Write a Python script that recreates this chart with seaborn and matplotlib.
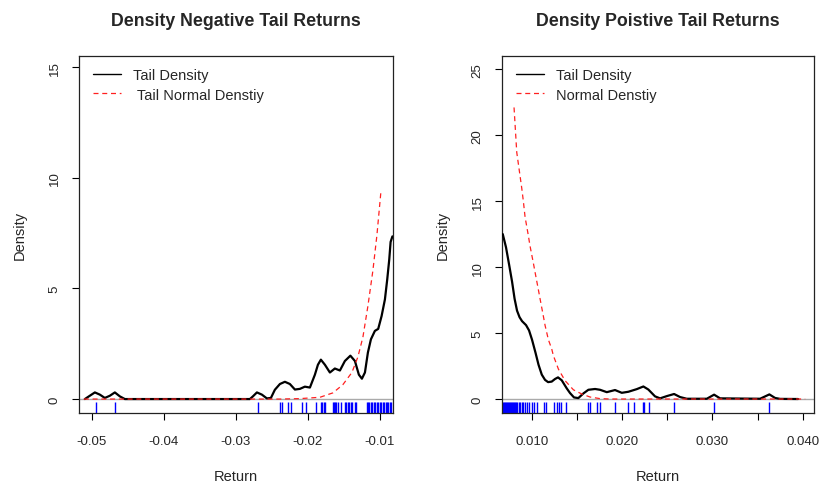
import numpy as np
import pandas as pd
import matplotlib
matplotlib.use("Agg")
import matplotlib.pyplot as plt
import seaborn as sns
from matplotlib.lines import Line2D

# ---------------- data ----------------
neg_rug = [-0.04945, -0.04677, -0.02693, -0.02388, -0.02361, -0.02277, -0.02229,
           -0.02087, -0.02021, -0.01882, -0.01820, -0.01799, -0.01778, -0.01764,
           -0.01653, -0.01639, -0.01626, -0.01605, -0.01584, -0.01535, -0.01487,
           -0.01466, -0.01445, -0.01424, -0.01404, -0.01383, -0.01348, -0.01327,
           -0.01182, -0.01168, -0.01147, -0.01126, -0.01105, -0.01085, -0.01071,
           -0.01043, -0.01029, -0.01002, -0.00981, -0.00960, -0.00939, -0.00918,
           -0.00904, -0.00884, -0.00863, -0.00842]

neg_kde_x = [-0.05093, -0.05024, -0.04954, -0.04885, -0.04816, -0.04746, -0.04677,
             -0.04607, -0.04538, -0.02804, -0.02763, -0.02707, -0.02638, -0.02569,
             -0.02513, -0.02458, -0.02388, -0.02319, -0.02250, -0.02180, -0.02111,
             -0.02042, -0.01972, -0.01903, -0.01861, -0.01820, -0.01764, -0.01695,
             -0.01626, -0.01556, -0.01487, -0.01411, -0.01348, -0.01293, -0.01251,
             -0.01209, -0.01168, -0.01126, -0.01071, -0.01025, -0.00978, -0.00932,
             -0.00900, -0.00872, -0.00853, -0.00828]
neg_kde_y = [0.0, 0.15, 0.30, 0.20, 0.05, 0.15, 0.30,
             0.12, 0.0, 0.0, 0.12, 0.30, 0.20, 0.03,
             0.05, 0.42, 0.68, 0.78, 0.68, 0.43, 0.46,
             0.56, 0.52, 1.10, 1.55, 1.78, 1.55, 1.20,
             1.38, 1.29, 1.72, 1.96, 1.72, 1.10, 0.92,
             1.20, 2.10, 2.70, 3.08, 3.17, 3.75, 4.50,
             5.40, 6.30, 7.10, 7.35]

neg_norm_x = [-0.05107, -0.02388, -0.02111, -0.01833, -0.01653, -0.01515, -0.01390,
              -0.01307, -0.01237, -0.01168, -0.01099, -0.01043, -0.00988]
neg_norm_y = [0.0, 0.0, 0.02, 0.08, 0.28, 0.65, 1.20,
              1.90, 2.80, 4.20, 5.80, 7.40, 9.35]

pos_rug = [0.00682, 0.00693, 0.00704, 0.00715, 0.00726, 0.00738, 0.00749, 0.00760,
           0.00771, 0.00782, 0.00793, 0.00804, 0.00815, 0.00826, 0.00837, 0.00854,
           0.00870, 0.00887, 0.00907, 0.00926, 0.00948, 0.00970, 0.01003, 0.01025,
           0.01055, 0.01136, 0.01155, 0.01250, 0.01275, 0.01297, 0.01324, 0.01374,
           0.01623, 0.01646, 0.01723, 0.01751, 0.01922, 0.02070, 0.02133, 0.02227,
           0.02244, 0.02302, 0.02576, 0.03019, 0.03628]

pos_kde_x = [0.00679, 0.00715, 0.00749, 0.00782, 0.00810, 0.00837, 0.00865, 0.00893,
             0.00937, 0.00970, 0.01003, 0.01042, 0.01075, 0.01111, 0.01147, 0.01181,
             0.01221, 0.01258, 0.01291, 0.01332, 0.01388, 0.01424, 0.01468, 0.01516,
             0.01571, 0.01627, 0.01701, 0.01756, 0.01831, 0.01922, 0.01997, 0.02070,
             0.02163, 0.02236, 0.02291, 0.02365, 0.02421, 0.02495, 0.02576, 0.02642,
             0.02716, 0.02938, 0.03019, 0.03085, 0.03528, 0.03631, 0.03694, 0.03750,
             0.03949]
pos_kde_y = [12.5, 11.5, 10.2, 8.9, 7.6, 6.7, 6.2, 5.9,
             5.6, 5.2, 4.5, 3.5, 2.6, 1.85, 1.45, 1.28,
             1.32, 1.52, 1.64, 1.42, 0.80, 0.45, 0.12, 0.07,
             0.42, 0.70, 0.76, 0.70, 0.52, 0.68, 0.47, 0.55,
             0.75, 0.95, 0.72, 0.20, 0.05, 0.22, 0.38, 0.15,
             0.02, 0.02, 0.33, 0.05, 0.02, 0.35, 0.08, 0.01,
             0.0]

pos_norm_x = [0.00804, 0.00834, 0.00889, 0.00907, 0.00926, 0.00962, 0.00981, 0.01018,
              0.01037, 0.01073, 0.01092, 0.01128, 0.01147, 0.01184, 0.01221, 0.01239,
              0.01295, 0.01369, 0.01461, 0.01554, 0.01646, 0.01756, 0.01867, 0.04027]
pos_norm_y = [22.1, 18.7, 16.0, 15.0, 13.8, 12.4, 11.6, 10.3,
              9.6, 8.3, 7.6, 6.3, 5.6, 4.5, 3.8, 3.3,
              2.27, 1.39, 0.70, 0.38, 0.15, 0.03, 0.0, 0.0]

neg_xticks = [-0.05, -0.04, -0.03, -0.02, -0.01]
neg_xticklabels = ["-0.05", "-0.04", "-0.03", "-0.02", "-0.01"]
neg_yticks = [0, 5, 10, 15]
pos_xticks = [0.010, 0.015, 0.020, 0.025, 0.030, 0.035, 0.040]
pos_xticklabels = ["0.010", "", "0.020", "", "0.030", "", "0.040"]
pos_yticks = [0, 5, 10, 15, 20, 25]

titles = ["Density Negative Tail Returns", "Density Poistive Tail Returns"]
legend_labels = [["Tail Density", " Tail Normal Denstiy"], ["Tail Density", "Normal Denstiy"]]

# ---------------- style ----------------
sns.set_style("white")
plt.rcParams["font.family"] = ["Liberation Sans", "DejaVu Sans"]

fig = plt.figure(figsize=(8.2, 4.85), dpi=100)
ax1 = fig.add_axes([79.3 / 820, 71 / 485, 313.4 / 820, 357 / 485])
ax2 = fig.add_axes([502.3 / 820, 71 / 485, 311.7 / 820, 357 / 485])

panels = [
    (ax1, neg_rug, neg_kde_x, neg_kde_y, neg_norm_x, neg_norm_y, neg_xticks,
     neg_xticklabels, neg_yticks, (-0.0517, -0.00824), (-0.63, 15.5)),
    (ax2, pos_rug, pos_kde_x, pos_kde_y, pos_norm_x, pos_norm_y, pos_xticks,
     pos_xticklabels, pos_yticks, (0.00674, 0.04125), (-1.06, 26.0)),
]

for i, (ax, rug, kx, ky, nx, ny, xt, xtl, yt, xl, yl) in enumerate(panels):
    ax.axhline(0, color="#aaaaaa", lw=1.0, zorder=1)
    sns.lineplot(x=kx, y=ky, ax=ax, color="black", lw=1.6, sort=False,
                 estimator=None, zorder=3)
    sns.lineplot(x=nx, y=ny, ax=ax, color="#ff2020", lw=0.9, sort=False,
                 estimator=None, linestyle=(0, (4, 3)), zorder=4)
    sns.rugplot(x=rug, ax=ax, height=0.03, color="blue", lw=1.0, zorder=2)
    ax.set_xlim(*xl)
    ax.set_ylim(*yl)
    ax.set_xticks(xt)
    ax.set_xticklabels(xtl)
    ax.set_yticks(yt)
    ax.set_yticklabels([str(v) for v in yt], rotation=90, va="center")
    ax.tick_params(axis="both", direction="out", length=5, width=0.8,
                   color="black", labelsize=9.5, bottom=True, left=True)
    ax.tick_params(axis="x", pad=10.5)
    ax.tick_params(axis="y", pad=8.5)
    for s in ax.spines.values():
        s.set_color("#222222")
        s.set_linewidth(0.9)
    ax.set_xlabel("Return", fontsize=10.5, labelpad=16)
    ax.set_ylabel("Density", fontsize=10.5, labelpad=16)
    ax.set_title(titles[i], fontsize=12.8, fontweight="bold", pad=22.5)
    handles = [Line2D([], [], color="black", lw=1.0),
               Line2D([], [], color="#ff2020", lw=0.9, linestyle=(0, (4, 3)))]
    ax.legend(handles, legend_labels[i], loc="upper left", frameon=False,
              fontsize=10.5, handlelength=1.9, handletextpad=0.8,
              labelspacing=0.35, borderaxespad=0.0, borderpad=0.0,
              bbox_to_anchor=(0.045, 0.965))

fig.savefig("out.png", dpi=100)
